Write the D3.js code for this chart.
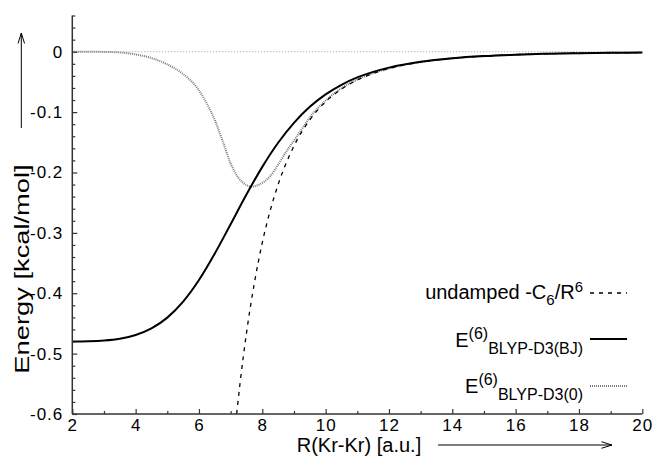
<!DOCTYPE html>
<html>
<head>
<meta charset="utf-8">
<script src="https://cdn.jsdelivr.net/npm/d3@7"></script>
<style>
  html, body { margin: 0; padding: 0; background: #fff; }
  svg { display: block; font-family: "Liberation Sans", Arial, Helvetica, sans-serif; }
</style>
</head>
<body>
<svg id="chart" width="655" height="457"></svg>
<script>
// ---- data ----
const xTicks = [2, 4, 6, 8, 10, 12, 14, 16, 18, 20];
const yTicks = [0, -0.1, -0.2, -0.3, -0.4, -0.5, -0.6];
const yTickLabels = ["0", "-0.1", "-0.2", "-0.3", "-0.4", "-0.5", "-0.6"];

// undamped -C6/R^6
const rUndamped = [7.19, 7.3, 7.5, 7.75, 8, 8.25, 8.5, 9, 9.5, 10, 10.5, 11, 11.5, 12, 13, 14, 15, 16, 17, 18, 19, 20];
const eUndamped = [-0.600, -0.548, -0.466, -0.383, -0.316, -0.263, -0.220, -0.156, -0.1128, -0.0829, -0.0619, -0.0468, -0.0358, -0.0278, -0.0172, -0.0110, -0.0073, -0.0049, -0.0034, -0.0024, -0.0018, -0.0013];

// E(6) BLYP-D3(BJ)
const rBJ = [2, 2.5, 3, 3.5, 4, 4.5, 5, 5.5, 6, 6.5, 7, 7.5, 8, 8.5, 9, 9.5, 10, 10.5, 11, 11.5, 12, 13, 14, 15, 16, 17, 18, 19, 20];
const eBJ = [-0.480, -0.4795, -0.4782, -0.4752, -0.4691, -0.4582, -0.4404, -0.4139, -0.3781, -0.3342, -0.2856, -0.2365, -0.1907, -0.1508, -0.1178, -0.0913, -0.0707, -0.0548, -0.0426, -0.0334, -0.0263, -0.0166, -0.0108, -0.0072, -0.0049, -0.0034, -0.0024, -0.0018, -0.0013];

// E(6) BLYP-D3(0)
const rZero = [2, 3, 3.5, 4, 4.5, 5, 5.5, 6, 6.25, 6.5, 6.75, 7, 7.25, 7.5, 7.65, 7.9, 8.25, 8.5, 8.75, 9, 9.25, 9.5, 10, 10.5, 11, 11.5, 12, 13, 14, 15, 16, 17, 18, 19, 20];
const eZero = [0, -0.0003, -0.0012, -0.0045, -0.0105, -0.021, -0.037, -0.064, -0.086, -0.113, -0.148, -0.185, -0.209, -0.221, -0.2235, -0.220, -0.206, -0.187, -0.166, -0.147, -0.128, -0.109, -0.081, -0.0605, -0.0462, -0.0355, -0.0276, -0.0171, -0.0110, -0.0073, -0.0049, -0.0034, -0.0024, -0.0018, -0.0013];

const legendLabels = ["undamped", "BJ", "zero"];

// ---- layout ----
const svg = d3.select("#chart");
const x = d3.scaleLinear().domain([2, 20]).range([72.3, 642.3]);
const y = d3.scaleLinear().domain([-0.6, 0.06]).range([414, 15.5]);
const axisColor = "#333";

// zero reference line
svg.append("line")
  .attr("x1", x(2)).attr("x2", x(20)).attr("y1", y(0)).attr("y2", y(0))
  .attr("stroke", "#9a9a9a").attr("stroke-width", 1).attr("stroke-dasharray", "1,2");

const line = d3.line().x(d => x(d[0])).y(d => y(d[1])).curve(d3.curveMonotoneX);
const zip = (a, b) => a.map((v, i) => [v, b[i]]);

const gCurves = svg.append("g");
gCurves.append("path").datum(zip(rZero, eZero)).attr("d", line)
  .attr("fill", "none").attr("stroke", "#7a7a7a").attr("stroke-width", 2).attr("stroke-dasharray", "1,1");
gCurves.append("path").datum(zip(rUndamped, eUndamped)).attr("d", line)
  .attr("fill", "none").attr("stroke", "#000").attr("stroke-width", 1.3).attr("stroke-dasharray", "4,5");
gCurves.append("path").datum(zip(rBJ, eBJ)).attr("d", line)
  .attr("fill", "none").attr("stroke", "#000").attr("stroke-width", 2);

// ---- axes ----
const xAxis = d3.axisBottom(x).tickValues(xTicks).tickSize(-5).tickPadding(8).tickFormat(d3.format("d"));
const xMinor = d3.axisBottom(x).tickValues(d3.range(3, 20, 2)).tickSize(-3).tickFormat("");
const gx = svg.append("g").attr("transform", `translate(0,${y(-0.6)})`).call(xAxis);
const gxm = svg.append("g").attr("transform", `translate(0,${y(-0.6)})`).call(xMinor);

const yAxis = d3.axisLeft(y).tickValues(yTicks).tickSize(-5).tickPadding(9).tickFormat((d, i) => yTickLabels[i]);
const yMinorVals = d3.range(-0.58, 0.061, 0.02).map(v => +v.toFixed(2)).filter(v => Math.abs(v * 10 - Math.round(v * 10)) > 1e-6);
const yMinor = d3.axisLeft(y).tickValues(yMinorVals).tickSize(-3).tickFormat("");
const gy = svg.append("g").attr("transform", `translate(${x(2)},0)`).call(yAxis);
const gym = svg.append("g").attr("transform", `translate(${x(2)},0)`).call(yMinor);

[gx, gxm, gy, gym].forEach(g => {
  g.select(".domain").attr("stroke", axisColor).attr("stroke-width", 1.5);
  g.selectAll(".tick line").attr("stroke", axisColor).attr("stroke-width", 1.2);
  g.selectAll("text").attr("fill", "#000").attr("font-size", 17).attr("letter-spacing", 1)
    .attr("font-family", "Liberation Sans, Arial, sans-serif");
});
gxm.select(".domain").remove();
gym.select(".domain").remove();
gx.select(".domain").attr("d", `M${x(2)},0H${x(20)}`);
gy.select(".domain").attr("d", `M0,${y(-0.6)}V${y(0.06)}`);
gx.selectAll(".tick text").attr("dy", "0.71em").attr("y", 5);

// ---- axis titles ----
svg.append("text").attr("x", 359).attr("y", 452).attr("text-anchor", "middle")
  .attr("font-size", 20).text("R(Kr-Kr) [a.u.]");
svg.append("text").attr("transform", "translate(29,269) rotate(-90) scale(1.3,1)").attr("text-anchor", "middle")
  .attr("font-size", 21).text("Energy [kcal/mol]");

// arrows
function arrow(x1, y1, x2, y2) {
  const g = svg.append("g").attr("stroke", "#000").attr("stroke-width", 1).attr("fill", "none");
  g.append("line").attr("x1", x1).attr("y1", y1).attr("x2", x2).attr("y2", y2);
  const a = Math.atan2(y2 - y1, x2 - x1), L = 11, W = 0.3;
  g.append("path").attr("d",
    `M${x2 - L * Math.cos(a - W)},${y2 - L * Math.sin(a - W)}L${x2},${y2}L${x2 - L * Math.cos(a + W)},${y2 - L * Math.sin(a + W)}`);
}
arrow(438, 445, 612, 445);
arrow(21.3, 128, 21.3, 33);

// ---- legend ----
const legX2 = 583, sx1 = 590, sx2 = 627;
const rows = [
  { key: legendLabels[0], ly: 293, base: 299, dash: "4,5", stroke: "#000", w: 1.3 },
  { key: legendLabels[1], ly: 339, base: 347, dash: null, stroke: "#000", w: 2 },
  { key: legendLabels[2], ly: 386, base: 393, dash: "1,1", stroke: "#7a7a7a", w: 2 }
];
rows.forEach(r => {
  svg.append("line").attr("x1", sx1).attr("x2", sx2).attr("y1", r.ly).attr("y2", r.ly)
    .attr("stroke", r.stroke).attr("stroke-width", r.w).attr("stroke-dasharray", r.dash);
  const t = svg.append("text").attr("x", legX2).attr("y", r.base).attr("text-anchor", "end").attr("font-size", 20);
  if (r.key === "undamped") {
    t.append("tspan").text("undamped -C");
    t.append("tspan").attr("font-size", 15).attr("dy", 6).text("6");
    t.append("tspan").attr("dy", -6).text("/R");
    t.append("tspan").attr("font-size", 15).attr("dy", -7).text("6");
  } else {
    t.append("tspan").text("E");
    t.append("tspan").attr("font-size", 16).attr("dy", -8).text("(6)");
    t.append("tspan").attr("font-size", 16).attr("dy", 15).text(r.key === "BJ" ? "BLYP-D3(BJ)" : "BLYP-D3(0)");
  }
});
</script>
</body>
</html>
